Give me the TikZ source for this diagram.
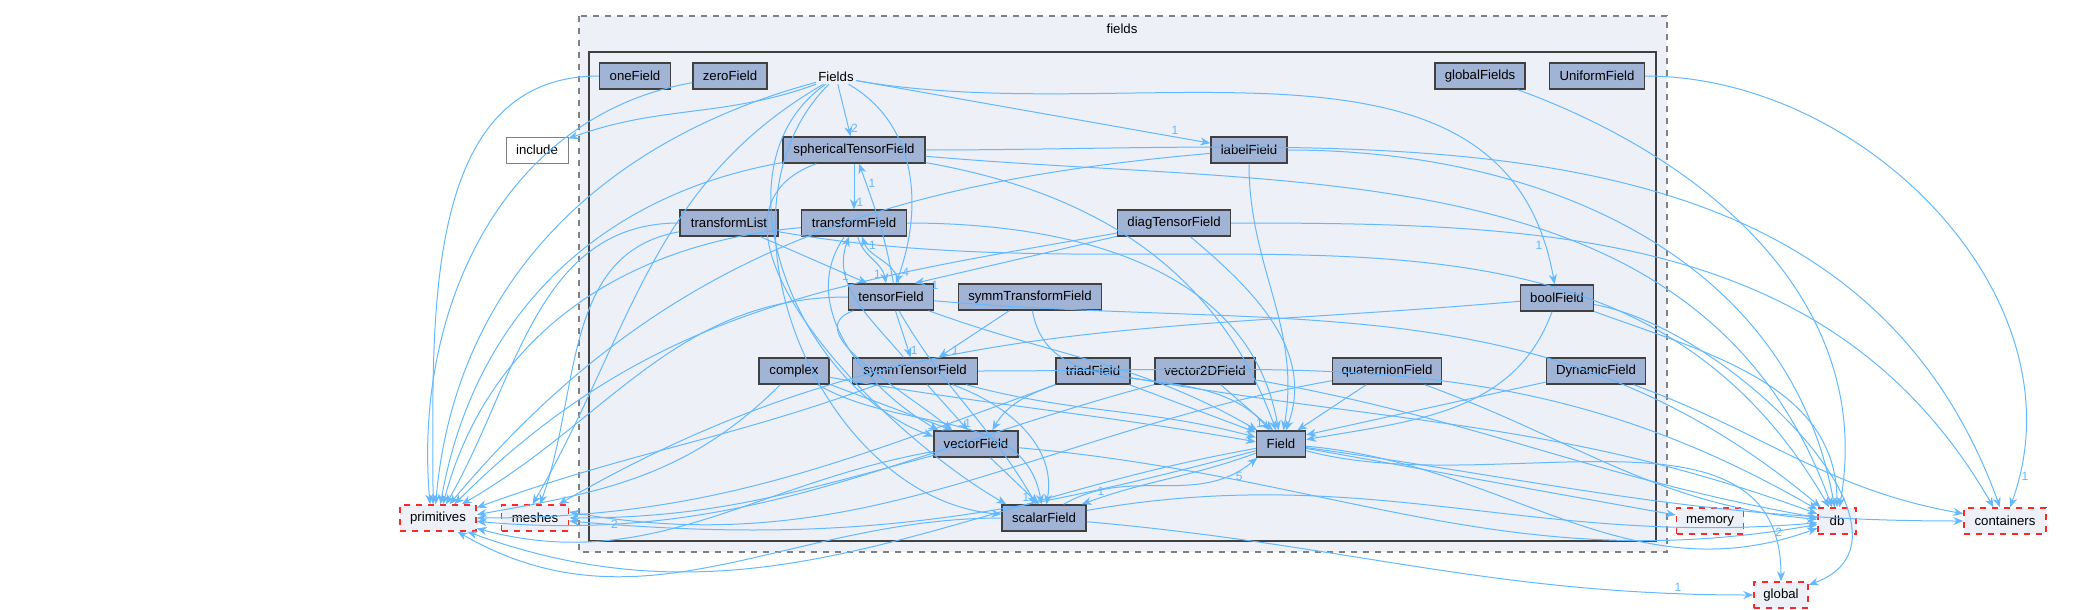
\documentclass[tikz,border=0pt]{standalone}
\usepackage{fontspec}
\setmainfont{Liberation Sans}
\usetikzlibrary{arrows.meta}
\definecolor{edge}{HTML}{63B8FF}
\definecolor{nfill}{HTML}{A2B4D6}
\definecolor{cfill}{HTML}{EDF0F7}
\begin{document}
\begin{tikzpicture}[x=0.5pt,y=-0.5pt,
  font=\fontsize{6.6}{7}\selectfont,
  n/.style={draw=black!75,fill=nfill,line width=0.7pt,minimum height=13pt,inner sep=1pt},
  ext/.style={draw=red!85,dashed,fill=cfill,line width=0.7pt,minimum height=13pt,inner sep=1pt},
  e/.style={draw=edge,line width=0.5pt,-{Stealth[length=5pt,width=4pt]}},
  l/.style={text=edge,font=\fontsize{6}{6}\selectfont,inner sep=1pt}]
\useasboundingbox (0,0) rectangle (2093,610);
% clusters
\draw[gray,dashed,fill=cfill,line width=0.6pt] (579,16) rectangle (1667,552);
\node (fieldslbl) at (1122,29) {fields};
\draw[black!75,line width=1.4pt] (589,52) rectangle (1656,541);
% nodes
\node[n,minimum width=35.5pt] (oneField) at (635,76) {oneField};
\node[n,minimum width=37pt] (zeroField) at (730,76) {zeroField};
\node[inner sep=1pt] (Fields) at (836,77) {Fields};
\node[draw=gray,fill=white,minimum width=31pt,minimum height=13pt,inner sep=1pt] (include) at (537,150) {include};
\node[n,minimum width=71pt] (sph) at (854,150) {sphericalTensorField};
\node[n,minimum width=38pt] (labelField) at (1249,150) {labelField};
\node[n,minimum width=45pt] (globalFields) at (1480,76) {globalFields};
\node[n,minimum width=47.5pt] (UniformField) at (1597,76) {UniformField};
\node[n,minimum width=49pt] (transformList) at (729,223) {transformList};
\node[n,minimum width=52.5pt] (transformField) at (854,223) {transformField};
\node[n,minimum width=56.5pt] (diag) at (1174,223) {diagTensorField};
\node[n,minimum width=42.5pt] (tensorField) at (891,297) {tensorField};
\node[n,minimum width=71.5pt] (symmTransformField) at (1030,297) {symmTransformField};
\node[n,minimum width=36.5pt] (boolField) at (1557,298) {boolField};
\node[n,minimum width=35pt] (complex) at (794,371) {complex};
\node[n,minimum width=62.5pt] (symmTensorField) at (915,371) {symmTensorField};
\node[n,minimum width=37pt] (triadField) at (1093,371) {triadField};
\node[n,minimum width=50pt] (vector2DField) at (1205,371) {vector2DField};
\node[n,minimum width=54.5pt] (quaternionField) at (1387,371) {quaternionField};
\node[n,minimum width=49.5pt] (DynamicField) at (1596,371) {DynamicField};
\node[n,minimum width=42pt] (vectorField) at (976,444) {vectorField};
\node[n,minimum width=24.5pt] (Field) at (1281,444) {Field};
\node[n,minimum width=42pt] (scalarField) at (1044,518) {scalarField};
\node[ext,minimum width=38pt] (primitives) at (438,518) {primitives};
\node[ext,minimum width=33.5pt] (meshes) at (535,518) {meshes};
\node[ext,minimum width=33.5pt] (memory) at (1710,521) {memory};
\node[ext,minimum width=19pt] (db) at (1837,521) {db};
\node[ext,minimum width=41pt] (containers) at (2005,521) {containers};
\node[ext,minimum width=27pt] (global) at (1781,595) {global};
% edges
\draw[e] (oneField) to[out=180,in=90] (primitives.110);
\draw[e] (zeroField) to[out=190,in=95] (primitives.120);
\draw[e] (Fields) to[out=195,in=85] (primitives.100);
\draw[e] (Fields) to[out=200,in=20] (include);
\draw[e] (Fields) to[out=210,in=60] (meshes.100);
\draw[e] (Fields) -- node[l,pos=0.85,right]{2} (sph);
\draw[e] (Fields) -- node[l,pos=0.9,above]{1} (labelField);
\draw[e] (Fields) to[out=-30,in=70] node[l,pos=0.95,right]{4} (tensorField.70);
\draw[e] (Fields) to[out=-10,in=100] node[l,pos=0.95,left]{1} (boolField);
\draw[e] (Fields) to[out=215,in=160] (vectorField.170);
\draw[e] (Fields) to[out=225,in=175] (scalarField.175);
\draw[e] (sph) -- node[l,pos=0.85,right]{1} (transformField);
\draw[e] (sph) to[out=190,in=80] (primitives.80);
\draw[e] (sph) to[out=200,in=150] (scalarField.160);
\draw[e] (sph) to[out=-10,in=110] (Field.110);
\draw[e] (sph) to[out=-5,in=110] (db.110);
\draw[e] (sph) to[out=0,in=110] (containers.110);
\draw[e] (transformField) to[out=-75,in=100] node[l,pos=0.85,left]{1} (tensorField.110);
\draw[e] (tensorField.60) to[out=100,in=-70] node[l,pos=0.85,right]{1} (transformField.-60);
\draw[e] (tensorField.80) to[out=100,in=-70] node[l,pos=0.85,right]{1} (sph.-70);
\draw[e] (transformField) to[out=0,in=100] (Field.100);
\draw[e] (transformField) to[out=235,in=150] (vectorField.160);
\draw[e] (transformField) to[out=185,in=75] (primitives.70);
\draw[e] (transformList) -- node[l,pos=0.85,left]{1} (tensorField.150);
\draw[e] (transformList) to[out=180,in=60] (primitives.60);
\draw[e] (transformList) to[out=190,in=70] (meshes.70);
\draw[e] (transformList) to[out=-10,in=120] (db.120);
\draw[e] (labelField) to[out=-90,in=80] (Field.80);
\draw[e] (labelField) to[out=185,in=50] (primitives.50);
\draw[e] (labelField) to[out=0,in=100] (db.100);
\draw[e] (diag) -- node[l,pos=0.9,below]{1} (tensorField.30);
\draw[e] (diag) to[out=-40,in=70] (Field.70);
\draw[e] (diag) to[out=190,in=45] (primitives.40);
\draw[e] (diag) to[out=0,in=120] (containers.130);
\draw[e] (tensorField) -- node[l,pos=0.85,right]{1} (symmTensorField);
\draw[e] (tensorField) to[out=200,in=140] (vectorField.150);
\draw[e] (tensorField) to[out=-60,in=120] (scalarField.120);
\draw[e] (tensorField) to[out=-20,in=150] (Field.150);
\draw[e] (tensorField) to[out=180,in=30] (primitives.30);
\draw[e] (tensorField) to[out=-5,in=140] (db.140);
\draw[e] (symmTransformField) -- node[l,pos=0.85,right]{1} (symmTensorField.30);
\draw[e] (symmTransformField) to[out=-80,in=130] (Field.130);
\draw[e] (symmTensorField) -- node[l,pos=0.85,right]{1} (vectorField.120);
\draw[e] (symmTensorField) to[out=-20,in=80] (scalarField.80);
\draw[e] (symmTensorField) to[out=-15,in=165] (Field.165);
\draw[e] (symmTensorField) to[out=130,in=-110] (transformField.-110);
\draw[e] (symmTensorField) to[out=200,in=20] (primitives.15);
\draw[e] (symmTensorField) to[out=0,in=150] (db.150);
\draw[e] (complex) -- (vectorField.150);
\draw[e] (complex) to[out=-30,in=100] (scalarField.100);
\draw[e] (complex) to[out=-10,in=170] (Field.175);
\draw[e] (complex) to[out=225,in=10] (primitives.5);
\draw[e] (triadField) -- (Field.155);
\draw[e] (triadField) to[out=200,in=0] (primitives.0);
\draw[e] (triadField) to[out=200,in=60] (vectorField.40);
\draw[e] (triadField) to[out=-10,in=160] (db.160);
\draw[e] (vector2DField) -- node[l,pos=0.85,left]{1} (Field.120);
\draw[e] (vector2DField) to[out=195,in=-5] (primitives.-5);
\draw[e] (vector2DField) to[out=-10,in=170] (db.170);
\draw[e] (quaternionField) -- (Field.40);
\draw[e] (quaternionField) to[out=190,in=-10] (meshes.10);
\draw[e] (quaternionField) to[out=-20,in=175] (db.175);
\draw[e] (DynamicField) -- (Field.20);
\draw[e] (DynamicField) to[out=-20,in=170] (containers.170);
\draw[e] (boolField) to[out=-110,in=10] (Field.10);
\draw[e] (boolField) to[out=185,in=30] (meshes.30);
\draw[e] (boolField) to[out=-20,in=90] (db.90);
\draw[e] (boolField) to[out=-10,in=20] (global.20);
\draw[e] (globalFields) to[out=-20,in=80] (db.80);
\draw[e] (UniformField) to[out=0,in=70] node[l,pos=0.95,right]{1} (containers.70);
\draw[e] (vectorField) -- node[l,pos=0.85,left]{1} (scalarField.110);
\draw[e] (vectorField) to[out=190,in=-15] (primitives.-15);
\draw[e] (vectorField) to[out=195,in=0] (meshes.0);
\draw[e] (vectorField) to[out=-5,in=-170] (db.-170);
\draw[e] (Field) to[out=200,in=20] node[l,pos=0.9,above]{1} (scalarField.20);
\draw[e] (scalarField.35) to[out=30,in=-140] node[l,pos=0.9,below]{5} (Field.-150);
\draw[e] (Field) to[out=190,in=-20] (primitives.-25);
\draw[e] (Field) to[out=195,in=-5] node[l,pos=0.95,right]{2} (meshes.-5);
\draw[e] (Field) to[out=-10,in=170] (memory.170);
\draw[e] (Field) to[out=-5,in=-160] (db.-160);
\draw[e] (Field) to[out=-8,in=180] (containers.180);
\draw[e] (Field) to[out=-15,in=90] node[l,pos=0.9,right]{2} (global.90);
\draw[e] (scalarField) to[out=-5,in=180] node[l,pos=0.9,above]{1} (global.180);
\draw[e] (scalarField) to[out=10,in=-175] (db.-175);
\draw[e] (scalarField) to[out=180,in=-30] (primitives.-35);
\end{tikzpicture}
\end{document}
